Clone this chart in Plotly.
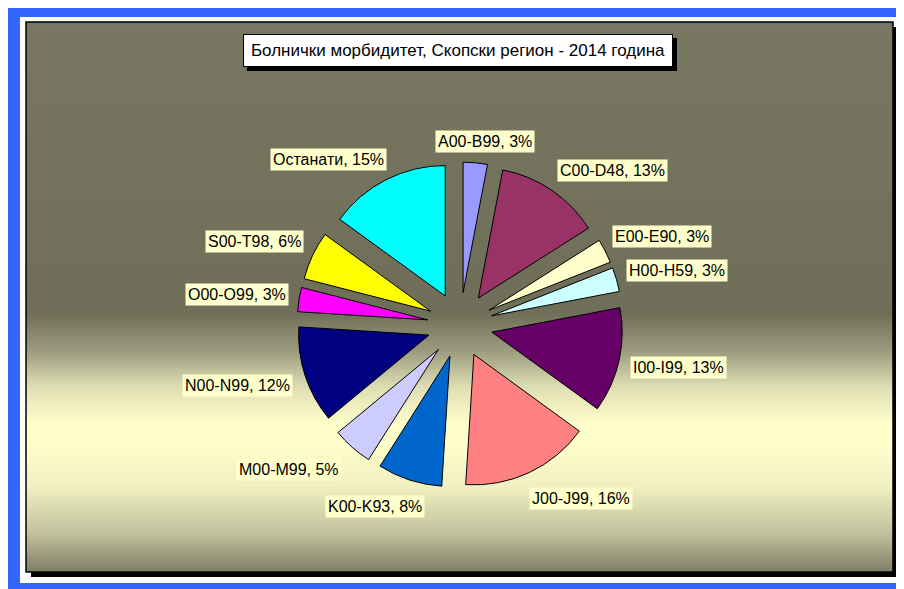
import math
import plotly.graph_objects as go

W, H = 904, 589

# chart data
categories = ["A00-B99", "C00-D48", "E00-E90", "H00-H59", "I00-I99", "J00-J99",
              "K00-K93", "M00-M99", "N00-N99", "O00-O99", "S00-T98", "Останати"]
shares = [3, 13, 3, 3, 13, 16, 8, 5, 12, 3, 6, 15]
slice_colors = ["#9999FF", "#993366", "#FFFFCC", "#CCFFFF", "#660066", "#FF8080",
                "#0066CC", "#CCCCFF", "#000080", "#FF00FF", "#FFFF00", "#00FFFF"]
title_text = "Болнички морбидитет, Скопски регион - 2014 година"

FONT = "Arial, 'Liberation Sans', sans-serif"

# layout in page pixels (the page body adds an 8px margin round the figure)
OFF = 8
CX, CY = 460, 325          # pie centre
HALF = 163                 # half size of the pie domain
PULL = 0.25
PLOT = (26, 22, 893, 572)  # chart area box (x0, y0, x1, y1)
TITLE_BOX = (243, 34, 673, 67)


def px(x):
    return (x - OFF) / W


def py(y):
    return 1 - (y - OFF) / H


# background gradient of the chart area (y px, colour)
grad_stops = [(22, "#787862"), (313, "#6F6F59"), (350, "#9A9A7D"), (387, "#DEDEB4"),
              (425, "#FFFFCC"), (445, "#FFFFCC"), (487, "#EFEFC1"), (533, "#C2C29E"),
              (572, "#7E7E66")]


def hex_rgb(h):
    return tuple(int(h[i:i + 2], 16) for i in (1, 3, 5))


def grad_color(y):
    for (y0, c0), (y1, c1) in zip(grad_stops, grad_stops[1:]):
        if y0 <= y <= y1:
            t = (y - y0) / (y1 - y0)
            a, b = hex_rgb(c0), hex_rgb(c1)
            return "rgb(%d,%d,%d)" % tuple(round(a[i] + (b[i] - a[i]) * t) for i in range(3))
    return grad_stops[-1][1]


def rect(x0, y0, x1, y1, **kw):
    return dict(type="rect", xref="paper", yref="paper", x0=px(x0), x1=px(x1),
                y0=py(y1), y1=py(y0), layer="below", **kw)


# rough Arial widths at 16px, used to place the label boxes
CHAR_W = {"I": 4.45, "J": 8.0, "M": 13.3, "N": 11.55, "O": 12.45, "C": 11.55, "D": 11.55,
          "H": 11.55, "T": 9.8, "-": 5.3, ",": 4.45, " ": 4.45, "%": 14.2, "т": 6.7,
          "с": 8.0, "О": 12.45}


def text_width(t):
    return sum(CHAR_W.get(ch, 8.9) for ch in t)


shapes = [
    rect(8, 0, 920, 600, fillcolor="#3366FF", line=dict(width=0)),
    rect(20, 17, 920, 583, fillcolor="white", line=dict(width=0)),
    rect(PLOT[0] + 5, PLOT[1] + 5, PLOT[2] + 6, PLOT[3] + 5, fillcolor="black", line=dict(width=0)),
]
step = 3
y = PLOT[1]
while y < PLOT[3]:
    shapes.append(rect(PLOT[0], y, PLOT[2], min(y + step + 0.6, PLOT[3]),
                       fillcolor=grad_color(y + step / 2), line=dict(width=0)))
    y += step
shapes.append(rect(*PLOT, line=dict(color="black", width=1.5)))
# title shadow
shapes.append(rect(TITLE_BOX[0] + 4, TITLE_BOX[1] + 4, TITLE_BOX[2] + 4, TITLE_BOX[3] + 4,
                   fillcolor="black", line=dict(width=0)))

fig = go.Figure(go.Pie(
    labels=categories,
    values=shares,
    sort=False,
    direction="clockwise",
    rotation=0,
    pull=[PULL] * len(shares),
    marker=dict(colors=slice_colors, line=dict(color="black", width=1)),
    textinfo="none",
    hoverinfo="none",
    showlegend=False,
    domain=dict(x=[px(CX - HALF), px(CX + HALF)], y=[py(CY + HALF), py(CY - HALF)]),
))

# data labels with Excel style backgrounds
annotations = []
total = sum(shares)
cum = 0
R_LAB = 173
for cat, v in zip(categories, shares):
    mid = (cum + v / 2) / total * 2 * math.pi
    cum += v
    text = f"{cat}, {round(v / total * 100)}%"
    w, h = text_width(text) + 6, 22
    s, c = math.sin(mid), math.cos(mid)
    r = R_LAB + 7 * max(0.0, -c)
    clamp = lambda u: max(-1.0, min(1.0, 2 * u))
    annotations.append(dict(
        x=px(CX + r * s), y=py(CY - r * c), xref="paper", yref="paper",
        text=text, showarrow=False, xanchor="center", yanchor="middle",
        xshift=w / 2 * clamp(s), yshift=h / 2 * clamp(c),
        bgcolor="#FFFFCC", borderpad=2, font=dict(family=FONT, size=16, color="black"),
    ))

# title box
annotations.append(dict(
    x=px((TITLE_BOX[0] + TITLE_BOX[2]) / 2), y=py((TITLE_BOX[1] + TITLE_BOX[3]) / 2),
    xref="paper", yref="paper", text=title_text, showarrow=False,
    xanchor="center", yanchor="middle",
    width=TITLE_BOX[2] - TITLE_BOX[0] - 12, height=TITLE_BOX[3] - TITLE_BOX[1] - 12,
    bgcolor="white", bordercolor="black", borderwidth=1, borderpad=5,
    font=dict(family=FONT, size=17, color="black"),
))

fig.update_layout(
    width=W, height=H,
    margin=dict(l=0, r=0, t=0, b=0),
    paper_bgcolor="white",
    shapes=shapes,
    annotations=annotations,
)

fig.write_html("out.html")
